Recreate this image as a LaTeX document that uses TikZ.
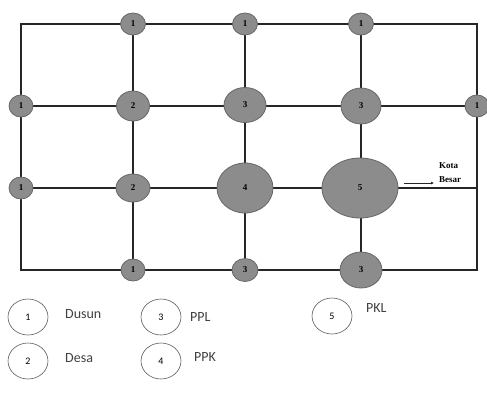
\documentclass[tikz,border=0pt]{standalone}
\usepackage{fontspec}
\setmainfont{Liberation Serif}
\newfontfamily\legfont{Carlito}
\usetikzlibrary{arrows.meta,shapes.geometric}
\begin{document}
\begin{tikzpicture}[x=1pt,y=-1pt,
  road/.style={draw=black!85,line width=1.8pt},
  town/.style={ellipse,draw=black!60,line width=0.8pt,fill=black!45,inner sep=0pt,
    font=\fontsize{9}{9}\selectfont\bfseries},
  legcirc/.style={ellipse,draw=black!65,line width=0.6pt,fill=white,
    minimum width=40pt,minimum height=36pt,inner sep=0pt,
    font=\legfont\fontsize{10}{10}\selectfont},
  legtext/.style={anchor=west,inner sep=0pt,font=\legfont\fontsize{14}{14}\selectfont,text=black!75},
  kbtext/.style={anchor=west,inner sep=0pt,font=\fontsize{9}{9}\selectfont\bfseries}]
\useasboundingbox (0,0) rectangle (487,400);
% corners
\coordinate (tl) at (21,24);
\coordinate (tr) at (477,24);
\coordinate (bl) at (21,270);
\coordinate (br) at (477,270);
\coordinate (r3) at (477,188);
% road junctions
\coordinate (a1) at (133,24); \coordinate (a2) at (245,24); \coordinate (a3) at (361,24);
\coordinate (b0) at (21,106); \coordinate (b1) at (133,106); \coordinate (b2) at (245,105); \coordinate (b3) at (361,106); \coordinate (b4) at (477,106);
\coordinate (c0) at (21,188); \coordinate (c1) at (133,188); \coordinate (c2) at (245,188); \coordinate (c3) at (360,188);
\coordinate (d1) at (133,270); \coordinate (d2) at (245,270); \coordinate (d3) at (361,270);
\draw[road] (tl) -- (tr) -- (br) -- (bl) -- cycle;
\draw[road] (b0) -- (b4);
\draw[road] (c0) -- (r3);
\draw[road] (a1) -- (d1);
\draw[road] (a2) -- (d2);
\draw[road] (a3) -- (d3);
% settlements
\node[town,minimum width=25pt,minimum height=22pt] (n1) at (a1) {1};
\node[town,minimum width=25pt,minimum height=22pt] (n2) at (a2) {1};
\node[town,minimum width=25pt,minimum height=22pt] (n3) at (a3) {1};
\node[town,minimum width=24pt,minimum height=22pt] (n4) at (b0) {1};
\node[town,minimum width=33pt,minimum height=30pt] (n5) at (b1) {2};
\node[town,minimum width=42pt,minimum height=35pt] (n6) at (b2) {3};
\node[town,minimum width=40pt,minimum height=36pt] (n7) at (b3) {3};
\node[town,minimum width=24pt,minimum height=22pt] (n8) at (b4) {1};
\node[town,minimum width=24pt,minimum height=22pt] (n9) at (c0) {1};
\node[town,minimum width=34pt,minimum height=28pt] (n10) at (c1) {2};
\node[town,minimum width=56pt,minimum height=50pt] (n11) at (c2) {4};
\node[town,minimum width=76pt,minimum height=60pt] (n12) at (c3) {5};
\node[town,minimum width=24pt,minimum height=22pt] (n13) at (d1) {1};
\node[town,minimum width=26pt,minimum height=23pt] (n14) at (d2) {3};
\node[town,minimum width=42pt,minimum height=36pt] (n15) at (d3) {3};
% Kota Besar
\coordinate (ka) at (404,183);
\coordinate (kb) at (434,183);
\draw[black!85,line width=0.9pt,-{Latex[length=3pt,width=3pt]}] (ka) -- (kb);
\node[kbtext] (kota) at (439,166) {Kota};
\node[kbtext] (besar) at (439,180) {Besar};
% legend
\node[legcirc] (l1) at (28,317) {1};
\node[legtext] (t1) at (65,314) {Dusun};
\node[legcirc] (l2) at (28,361) {2};
\node[legtext] (t2) at (65,358) {Desa};
\node[legcirc] (l3) at (161,317) {3};
\node[legtext] (t3) at (190,317) {PPL};
\node[legcirc] (l4) at (161,361) {4};
\node[legtext] (t4) at (194,357) {PPK};
\node[legcirc] (l5) at (332,316) {5};
\node[legtext] (t5) at (366,308) {PKL};
\end{tikzpicture}
\end{document}
